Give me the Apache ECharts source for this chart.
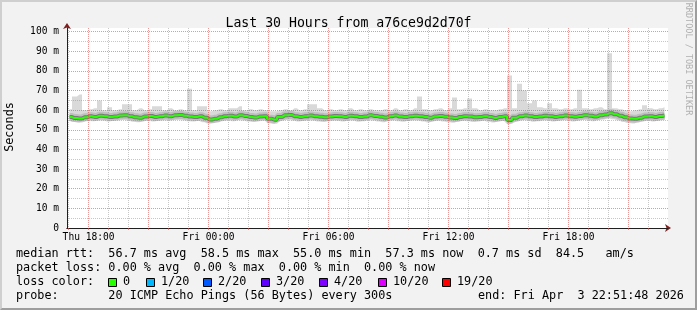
<!DOCTYPE html>
<html><head><meta charset="utf-8">
<script src="https://cdn.jsdelivr.net/npm/echarts@6/dist/echarts.min.js"></script>
<style>
html,body{margin:0;padding:0;background:#f2f2f2;}
#c{position:absolute;left:0;top:0;width:697px;height:310px;}
#frame{position:absolute;left:0;top:0;width:697px;height:310px;box-sizing:border-box;border-top:2px solid #cfcfcf;border-left:2px solid #cfcfcf;border-right:2px solid #9e9e9e;border-bottom:2px solid #9e9e9e;pointer-events:none;}
</style></head><body>
<div id="c"></div><div id="frame"></div>
<script>
// ---- data (ms), 15-minute slots over the last 30 hours ----
const startHour = 16.92;   // hours since Thu 00:00
const endHour = 46.97;
const stepHours = 0.25;

const medianMs = [
56.5,56.0,55.8,56.4,56.9,56.6,57.2,57.0,56.5,56.8,
57.3,57.5,57.0,56.4,56.2,56.8,57.1,56.6,56.9,57.3,
57.0,57.4,57.6,57.2,56.8,56.5,56.9,56.2,55.3,55.6,
56.4,57.0,57.2,56.8,57.5,57.1,56.6,56.3,56.8,57.0,
55.6,55.2,56.5,57.4,57.6,57.0,56.6,56.9,57.3,57.0,
56.7,56.4,56.8,57.1,56.9,56.6,57.2,57.0,56.5,56.8,
57.4,57.1,56.7,56.3,56.9,57.3,56.8,56.5,56.9,57.2,
57.0,56.6,56.2,56.8,57.1,56.7,56.3,56.0,56.6,57.0,
56.8,56.4,56.6,57.0,56.5,56.1,56.6,56.9,55.0,56.2,
56.9,57.3,57.0,56.5,56.8,57.2,57.0,56.6,56.9,57.3,
57.0,56.7,57.1,57.5,57.2,56.8,57.4,57.8,58.5,57.9,
57.2,56.4,55.8,55.6,56.2,56.8,57.0,56.6,57.1,57.3
];
const minMs = [
54.6,54.0,53.8,54.3,54.6,54.4,54.8,54.7,54.2,54.5,
54.8,55.0,54.6,54.1,53.9,54.4,54.7,54.3,54.5,54.8,
54.6,54.9,55.0,54.8,54.4,54.2,54.5,53.9,53.2,53.5,
54.0,54.6,54.8,54.4,54.9,54.7,54.3,54.0,54.4,54.6,
53.4,53.1,54.1,54.9,55.0,54.6,54.2,54.5,54.8,54.6,
54.3,54.0,54.4,54.7,54.5,54.2,54.8,54.6,54.1,54.4,
54.9,54.7,54.3,53.9,54.5,54.8,54.4,54.1,54.5,54.8,
54.6,54.2,53.8,54.4,54.7,54.3,53.9,53.6,54.2,54.6,
54.4,54.0,54.2,54.6,54.1,53.7,54.2,54.5,52.8,53.8,
54.5,54.9,54.6,54.1,54.4,54.8,54.6,54.2,54.5,54.9,
54.6,54.3,54.7,55.0,54.8,54.4,55.0,55.3,55.8,55.4,
54.8,54.0,53.5,53.3,53.9,54.4,54.6,54.2,54.7,54.9
];
const maxMs = [
60.5,67.0,68.0,60.0,60.5,61.0,65.0,60.0,61.5,60.0,
60.5,63.0,63.0,60.0,61.0,60.0,60.5,62.0,62.0,60.0,
61.0,60.0,60.5,60.0,71.0,60.0,62.0,62.0,59.5,60.0,
60.5,60.0,61.0,61.0,62.0,60.0,60.5,60.0,60.5,60.0,
59.5,59.5,60.0,60.5,60.0,61.0,60.0,60.5,63.0,63.0,
61.0,60.0,60.5,60.0,60.5,60.0,61.0,60.0,60.5,60.0,
60.5,60.0,60.0,60.5,60.0,61.0,60.0,60.5,60.0,61.0,
67.0,60.5,60.0,60.5,61.0,60.0,61.0,66.5,60.5,61.0,
66.0,61.0,60.0,60.5,60.0,60.0,60.5,61.0,77.7,61.0,
73.5,70.0,63.5,65.0,61.5,61.0,63.5,61.0,60.5,61.0,
60.5,61.0,70.5,61.0,60.5,61.0,61.5,60.5,89.0,61.0,
60.5,60.0,59.5,60.0,60.5,62.5,61.0,60.5,61.0,61.5
];

// ---- axes ----
const yTickValues = [0,5,10,15,20,25,30,35,40,45,50,55,60,65,70,75,80,85,90,95,100];
const yLabelValues = [0,10,20,30,40,50,60,70,80,90,100];
const xGridHours = [17,18,19,20,21,22,23,24,25,26,27,28,29,30,31,32,33,34,35,36,37,38,39,40,41,42,43,44,45,46];
const xTickValues = [18,24,30,36,42];
const xTickLabels = ['Thu 18:00','Fri 00:00','Fri 06:00','Fri 12:00','Fri 18:00'];

// ---- legend texts ----
const statsLine = 'median rtt:  56.7 ms avg  58.5 ms max  55.0 ms min  57.3 ms now  0.7 ms sd  84.5   am/s';
const lossLine = 'packet loss: 0.00 % avg  0.00 % max  0.00 % min  0.00 % now';
const lossLabels = ['0','1/20','2/20','3/20','4/20','10/20','19/20'];
const lossColors = ['#26ff00','#00b8ff','#0059ff','#5e00ff','#7e00ff','#dd00ff','#ff0000'];
const probeLine = 'probe:       20 ICMP Echo Pings (56 Bytes) every 300s';
const endLine = 'end: Fri Apr  3 22:51:48 2026';

const MONO = '"DejaVu Sans Mono", monospace';
const xs = medianMs.map((_, i) => startHour + (i + 0.5) * stepHours);
// rows are [value, hour] so the value column is the stacked one
const rows = arr => arr.map((v, i) => [v, xs[i]]);
const ENC = {x: 1, y: 0};

const MAJOR = 'rgba(222,79,79,0.6)';
const MINOR = 'rgba(143,143,143,0.5)';
const yMax = 101.9;

const chart = echarts.init(document.getElementById('c'), null, {renderer: 'canvas'});

const legendSquareX = [108,146,203,261,319,378,442];
const graphics = [];
function txt(x, y, s) {
  graphics.push({type: 'text', x: x, y: y, silent: true,
    style: {text: s, font: '11.8px ' + MONO, fill: '#000', verticalAlign: 'middle', textVerticalAlign: 'middle'}});
}
txt(16, 254, statsLine);
txt(16, 268, lossLine);
txt(16, 282, 'loss color:');
lossLabels.forEach((l, i) => {
  graphics.push({type: 'rect', silent: true, shape: {x: legendSquareX[i] + 0.5, y: 278.5, width: 8, height: 8},
    style: {fill: lossColors[i], stroke: '#000', lineWidth: 1}});
  txt(legendSquareX[i] + 15, 282, l);
});
txt(16, 296, probeLine);
txt(478, 296, endLine);
graphics.push({type: 'text', x: 10, y: 127, rotation: Math.PI / 2, silent: true,
  style: {text: 'Seconds', font: '11.8px ' + MONO, fill: '#000', align: 'center', verticalAlign: 'middle', textAlign: 'center', textVerticalAlign: 'middle'}});
graphics.push({type: 'text', x: 688, y: 59, rotation: -Math.PI / 2, silent: true,
  style: {text: 'RRDTOOL / TOBI OETIKER', font: '8.5px ' + MONO, fill: '#b0b0b0', align: 'center', verticalAlign: 'middle', textAlign: 'center', textVerticalAlign: 'middle'}});

const option = {
  backgroundColor: '#f2f2f2',
  animation: false,
  title: {text: 'Last 30 Hours from a76ce9d2d70f', left: 'center', top: 12,
    textStyle: {fontFamily: MONO, fontSize: 13.2, fontWeight: 'normal', color: '#000'}},
  grid: {left: 67, top: 28, width: 601, height: 200, show: true, backgroundColor: '#ffffff', borderWidth: 0},
  xAxis: [
    {type: 'value', min: startHour, max: endHour, position: 'bottom', z: 5,
      axisLine: {show: true, onZero: false, lineStyle: {color: '#1f1f1f', width: 1}},
      axisTick: {show: true, length: 2, customValues: xGridHours, lineStyle: {color: MAJOR}},
      axisLabel: {customValues: xTickValues, margin: 4, fontFamily: MONO, fontSize: 9.6, color: '#000',
        formatter: v => xTickLabels[xTickValues.indexOf(Math.round(v))] || ''},
      splitLine: {show: true, lineStyle: {color: [MINOR, MAJOR, MINOR], type: [1, 1], width: 1}}},
    {type: 'value', min: startHour, max: endHour, position: 'bottom', z: 1,
      axisLine: {show: true, onZero: false, symbol: ['none', 'arrow'], symbolSize: [6, 6], symbolOffset: [0, 3], lineStyle: {color: '#801f1f'}},
      axisTick: {show: false}, axisLabel: {show: false}, splitLine: {show: false}}
  ],
  yAxis: [
    {type: 'value', min: 0, max: yMax, position: 'left', z: 5,
      axisLine: {show: true, lineStyle: {color: '#1f1f1f', width: 1}},
      axisTick: {show: false, customValues: yTickValues},
      axisLabel: {customValues: yLabelValues, margin: 8, fontFamily: MONO, fontSize: 9.6, color: '#000',
        formatter: v => (v === 0 ? '0' : Math.round(v) + ' m')},
      splitLine: {show: true, lineStyle: {color: [MAJOR, MINOR], type: [1, 1], width: 1}}},
    {type: 'value', min: 0, max: yMax, position: 'left', z: 1,
      axisLine: {show: true, symbol: ['none', 'arrow'], symbolSize: [6, 6], symbolOffset: [0, 5], lineStyle: {color: '#801f1f'}},
      axisTick: {show: false}, axisLabel: {show: false}, splitLine: {show: false}}
  ],
  series: [
    {type: 'line', stack: 'smoke', data: rows(minMs), encode: ENC, symbol: 'none', step: 'middle', silent: true,
      lineStyle: {width: 0}, areaStyle: {opacity: 0}},
    {type: 'line', stack: 'smoke', data: rows(maxMs.map((v, i) => v - minMs[i])), encode: ENC, symbol: 'none', step: 'middle', silent: true,
      lineStyle: {width: 0}, areaStyle: {color: '#d9d9d9', opacity: 1}},
    {type: 'line', data: rows(medianMs), encode: ENC, symbol: 'none', step: 'middle', silent: true,
      lineStyle: {width: 8, color: 'rgba(140,140,140,0.35)'}},
    {type: 'line', data: rows(medianMs), encode: ENC, symbol: 'none', step: 'middle', silent: true,
      lineStyle: {width: 4, color: 'rgba(50,50,50,0.5)'}},
    {type: 'line', data: rows(medianMs), encode: ENC, symbol: 'none', step: 'middle', silent: true,
      lineStyle: {width: 2, color: '#26ff00'}}
  ],
  graphic: graphics
};
chart.setOption(option);
</script></body></html>
